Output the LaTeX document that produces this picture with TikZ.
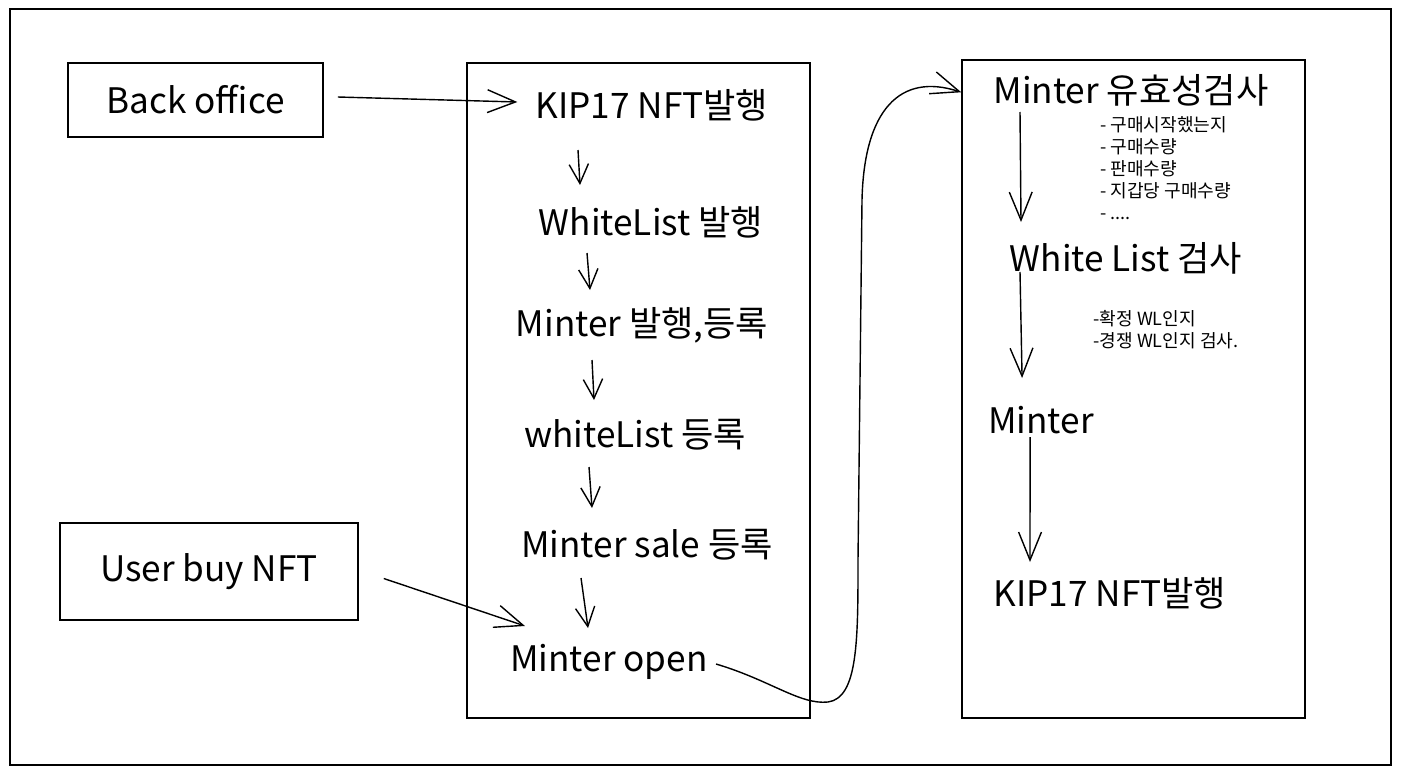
\documentclass[tikz,border=0pt]{standalone}
\usepackage{fontspec}
\setmainfont{Noto Sans CJK KR}
\usetikzlibrary{arrows.meta,calc}
\tikzstyle{every node}=[inner sep=0pt]
\tikzstyle{box}=[draw=black,line width=0.9pt]
\tikzstyle{lbl}=[font=\fontsize{20}{24}\selectfont]
\tikzstyle{note}=[font=\fontsize{10.3}{12.5}\selectfont,align=left,anchor=north west]
\tikzstyle{sarr}=[line width=0.8pt,-{Straight Barb[length=11pt,width=11pt]}]
\tikzstyle{larr}=[line width=0.8pt,-{Straight Barb[length=16pt,width=13pt]}]

\begin{document}
\begin{tikzpicture}[x=0.02cm,y=-0.02cm]
  \useasboundingbox (0,0) rectangle (1402,774);
  \draw[line width=0.8pt] (10,9) rectangle (1391,765);

  % left boxes
  \node[box,lbl,minimum width=5.1cm,minimum height=1.48cm] (back) at (195.5,100) {Back office};
  \node[box,lbl,minimum width=5.96cm,minimum height=1.94cm] (user) at (209,571.5) {User buy NFT};

  % middle column
  \node[box,minimum width=6.86cm,minimum height=13.1cm] (mid) at (638.5,390.5) {};
  \node[lbl] (kip) at (652,105) {KIP17 NFT발행};
  \node[lbl] (wl) at (651,222) {WhiteList 발행};
  \node[lbl] (mint) at (642,325) {Minter 발행,등록};
  \node[lbl] (wlreg) at (635,435) {whiteList 등록};
  \node[lbl] (sale) at (647,545) {Minter sale 등록};
  \node[lbl] (mo) at (609,662) {Minter open};

  \draw[sarr] ($(kip.center)+(-74,45)$) -- ($(wl.center)+(-71,-37)$);
  \draw[sarr] ($(wl.center)+(-64,31)$) -- ($(mint.center)+(-52,-35)$);
  \draw[sarr] ($(mint.center)+(-50,35)$) -- ($(wlreg.center)+(-41,-35)$);
  \draw[sarr] ($(wlreg.center)+(-46,32)$) -- ($(sale.center)+(-55,-37)$);
  \draw[sarr] ($(sale.center)+(-66,33)$) -- ($(mo.center)+(-21,-34)$);

  % right column
  \node[box,minimum width=6.86cm,minimum height=13.16cm] (right) at (1133.5,389) {};
  \node[lbl] (mv) at (1131,90) {Minter 유효성검사};
  \node[note] (chk) at (1100,116) {- 구매시작했는지\\- 구매수량\\- 판매수량\\- 지갑당 구매수량\\- ....};
  \node[lbl] (rwl) at (1126,258) {White List 검사};
  \node[note] (wlchk) at (1093,310) {-확정 WL인지\\-경쟁 WL인지 검사.};
  \node[lbl,anchor=west] (rm) at (988,420) {Minter};
  \node[lbl] (rk) at (1110,593) {KIP17 NFT발행};

  \draw[larr] ($(mv.center)+(-111,22)$) -- ($(rwl.center)+(-105,-36)$);
  \draw[larr] ($(rwl.center)+(-106,14)$) -- ($(rm.center)+(-19,-42)$);
  \draw[larr] ($(rm.center)+(-11,17)$) -- ($(rk.center)+(-80,-31)$);

  % entry arrows
  \draw[larr] ($(back.east)+(14,-3)$) -- ($(kip.west)+(-18,-3)$);
  \draw[larr] ($(user.east)+(25,7)$) -- ($(mo.north west)+(15,-18)$);
  \draw[larr] ($(mo.east)+(8,2)$) .. controls (770,680) and (800,705) .. (828,702)
    .. controls (858,698) and (858,640) .. (858,560) -- (862,200)
    .. controls (864,110) and (900,72) .. ($(right.north west)+(0,33)$);
\end{tikzpicture}
\end{document}
